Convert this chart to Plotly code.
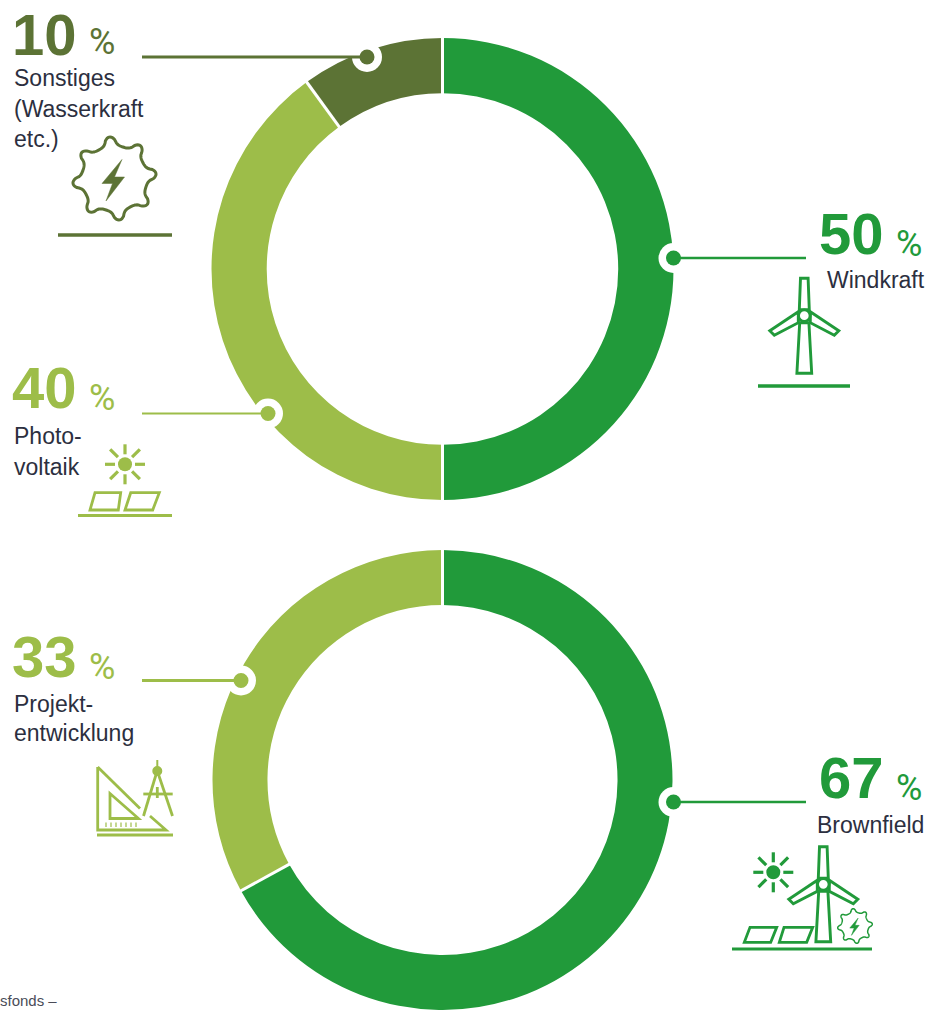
import numpy as np
import plotly.graph_objects as go

W, H = 929, 1010
GREEN = "#219A3A"
LIGHT = "#9DBD49"
DARK = "#5C7335"
INK = "#2C2F40"

# Technology split
tech_names = ["Windkraft", "Photovoltaik", "Sonstiges"]
tech_values = [50, 40, 10]
tech_colors = [GREEN, LIGHT, DARK]

# Project stage split
stage_names = ["Brownfield", "Projektentwicklung"]
stage_values = [67, 33]
stage_colors = [GREEN, LIGHT]

HOLE = 0.761


def px(x):
    return x / W


def py(y):
    return 1 - y / H


def path_from(points, close=True):
    d = "M" + " L".join(f"{px(x):.5f},{py(y):.5f}" for x, y in points)
    return d + (" Z" if close else "")


shapes = []


def line(x0, y0, x1, y1, color, width):
    shapes.append(dict(type="line", xref="paper", yref="paper", layer="above",
                       x0=px(x0), y0=py(y0), x1=px(x1), y1=py(y1),
                       line=dict(color=color, width=width)))


def circle(cx, cy, r, fill, stroke=None, width=0):
    shapes.append(dict(type="circle", xref="paper", yref="paper", layer="above",
                       x0=px(cx - r), x1=px(cx + r), y0=py(cy - r), y1=py(cy + r),
                       fillcolor=fill, line=dict(color=stroke or fill, width=width)))


def outline(points, color, width, fill="rgba(0,0,0,0)", close=True):
    shapes.append(dict(type="path", xref="paper", yref="paper", layer="above",
                       path=path_from(points, close), fillcolor=fill,
                       line=dict(color=color, width=width)))


def separators(values, cx, cy, radius):
    # White radial cuts at each slice boundary, taken from the cumulative shares
    total = sum(values)
    for edge in np.cumsum(values):
        a = 2 * np.pi * edge / total
        dx, dy = np.sin(a), -np.cos(a)
        r0, r1 = radius * HOLE - 2, radius + 2
        line(cx + r0 * dx, cy + r0 * dy, cx + r1 * dx, cy + r1 * dy, "white", 3)


def callout(x0, x1, y, dot_x, color, width=2.5):
    circle(dot_x, y, 15, "white")
    line(x0, y, x1, y, color, width)
    circle(dot_x, y, 7.5, color)


def turbine(hx, hy, color, s=1.0, w=2.9):
    blades = [
        [(-5, -6), (-3.8, -37.5), (3.8, -37.5), (5, -6)],
        [(-6, -4), (-34.5, 15), (-30, 19.5), (-6, 7)],
        [(6, -4), (34.5, 15), (30, 19.5), (6, 7)],
    ]
    for b in blades:
        outline([(hx + s * a, hy + s * c) for a, c in b], color, w)
    tower = [(-4.6, 7), (-7.4, 57.5), (7.4, 57.5), (4.6, 7)]
    outline([(hx + s * a, hy + s * c) for a, c in tower], color, w)
    circle(hx, hy, 5.8 * s, "white", color, w)


def sun(cx, cy, color, w=3.2):
    circle(cx, cy, 7, color)
    for a in np.arange(8) * np.pi / 4:
        r0, r1 = (10, 20) if int(round(a / (np.pi / 4))) % 2 == 0 else (10, 21)
        line(cx + r0 * np.cos(a), cy + r0 * np.sin(a),
             cx + r1 * np.cos(a), cy + r1 * np.sin(a), color, w)


def gear(cx, cy, radius, color, w):
    t = np.linspace(0, 2 * np.pi, 241)
    wob = t + 0.06 * np.sin(8 * t + 1.0)
    wave = np.cos(8 * wob + 0.9)
    r = radius * (0.885 + 0.11 * np.sign(wave) * np.abs(wave) ** 0.7)
    outline(list(zip(cx + r * np.cos(t), cy + r * np.sin(t))), color, w)
    k = radius / 42
    bolt = [(7.5, -19), (-12.5, 5), (-2, 5), (-8.5, 22.5), (10, -1.5), (0, -1.5)]
    outline([(cx + k * a, cy + k * b) for a, b in bolt], color, 0.5, fill=color)


def panels(quads, color, w=2.8):
    for q in quads:
        outline(q, color, w)


def drafting_tools(color):
    w = 2.8
    outline([(97.7, 767), (97.7, 830), (166, 830), (150, 816)], color, w, close=False)
    line(97.7, 767, 140, 808.5, color, w)
    outline([(110, 793.5), (110, 818.5), (138.5, 818.5)], color, w)
    for x in np.arange(106, 141, 5):
        line(x, 822.5, x, 827, color, 1.2)
    line(157.3, 760, 157.3, 772, color, 2)
    circle(157.3, 771, 5, color)
    line(156.5, 773, 143.5, 816, color, w)
    line(158, 773, 172.5, 816, color, w)
    line(143.3, 794, 172.7, 794, color, w)
    line(157.3, 787, 157.3, 798, color, w)


# Leader lines with their ring markers
callout(142, 360, 57, 367, DARK, 2.8)
callout(680, 806, 258, 673.5, GREEN, 2.6)
callout(142, 262, 413.5, 268, LIGHT, 1.8)
callout(142, 240, 680.5, 241, LIGHT, 2.8)
callout(680, 806, 802, 673.5, GREEN, 2.6)

# Pictograms and the rules beneath them
gear(114.5, 178.5, 42, DARK, 3)
line(58, 235, 172, 235, DARK, 3.6)

turbine(804.3, 315.7, GREEN)
line(758, 386, 850, 386, GREEN, 3.4)

sun(125, 464.3, LIGHT)
panels([[(95, 492.7), (120.7, 492.7), (118.3, 510), (90, 510)],
        [(130.7, 492.7), (159.3, 492.7), (152.7, 510), (125, 510)]], LIGHT)
line(78, 515.5, 172, 515.5, LIGHT, 2.8)

drafting_tools(LIGHT)
line(97, 835, 173, 835, LIGHT, 3.2)

sun(773.3, 872.3, GREEN)
turbine(823.3, 884.3, GREEN)
panels([[(750, 927.3), (776.7, 927.3), (770.7, 942.3), (744.3, 942.3)],
        [(784, 927.3), (812.7, 927.3), (806.7, 942.3), (779.3, 942.3)]], GREEN)
gear(855, 926, 17.5, GREEN, 1.5)
line(732, 949, 872, 949, GREEN, 3.2)

TOP = (442.5, 269, 231)
BOTTOM = (442.5, 780, 230)
separators(tech_values, *TOP)
separators(stage_values, *BOTTOM)

annotations = []


def text(x, y, s, size, color, anchor="left", bold=False, family="Liberation Sans"):
    annotations.append(dict(
        xref="paper", yref="paper", x=px(x), y=py(y), text=f"<b>{s}</b>" if bold else s,
        showarrow=False, xanchor=anchor, yanchor="middle", borderpad=0, borderwidth=0,
        font=dict(family=family, size=size, color=color)))


def figure_label(x_num, y_num, x_pct, y_pct, value, color):
    text(x_num, y_num, str(value), 58, color, bold=True)
    text(x_pct, y_pct, "%", 36, color, family="Roboto")


figure_label(11.5, 34, 88.5, 42, tech_values[2], DARK)
figure_label(819, 234, 895.5, 244, tech_values[0], GREEN)
figure_label(11.5, 387.5, 88.5, 397.5, tech_values[1], LIGHT)
figure_label(11.5, 656.5, 88.5, 666.5, stage_values[1], LIGHT)
figure_label(819, 777.5, 895.5, 787.5, stage_values[0], GREEN)

for y, s in [(78.5, "Sonstiges"), (109, "(Wasserkraft"), (139, "etc.)")]:
    text(14, y, s, 23, INK)
for y, s in [(436, "Photo-"), (467, "voltaik")]:
    text(14, y, s, 23, INK)
for y, s in [(704, "Projekt-"), (733, "entwicklung")]:
    text(14, y, s, 23, INK)
text(925, 280, "Windkraft", 23, INK, anchor="right")
text(924, 825, "Brownfield", 23, INK, anchor="right")
text(0, 1000, "sfonds –", 15, "#4A4C58")


def donut(names, values, colors, cx, cy, radius):
    return go.Pie(
        labels=names, values=values, hole=HOLE, sort=False, direction="clockwise",
        rotation=0, textinfo="none", hoverinfo="skip", showlegend=False,
        marker=dict(colors=colors, line=dict(color="white", width=0)),
        domain=dict(x=[px(cx - radius), px(cx + radius)],
                    y=[py(cy + radius), py(cy - radius)]),
    )


fig = go.Figure([
    donut(tech_names, tech_values, tech_colors, *TOP),
    donut(stage_names, stage_values, stage_colors, *BOTTOM),
])
fig.update_layout(
    width=W, height=H, autosize=False,
    margin=dict(l=0, r=0, t=0, b=0),
    paper_bgcolor="white", plot_bgcolor="white",
    shapes=shapes, annotations=annotations,
)
fig.write_html("out.html")
